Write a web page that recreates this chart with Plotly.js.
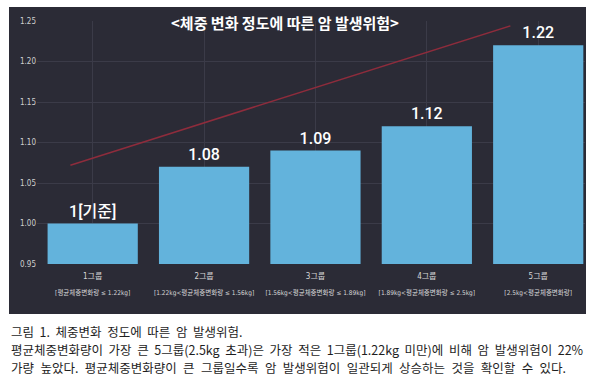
<!DOCTYPE html>
<html><head><meta charset="utf-8">
<script src="https://cdn.plot.ly/plotly-3.0.1.min.js"></script>
<style>html,body{margin:0;padding:0;background:#fff}#chart{width:600px;height:381px}</style>
</head><body><div id="chart"></div>
<script>
// ---- data ----
const groups = ['1그룹', '2그룹', '3그룹', '4그룹', '5그룹'];
const ranges = ['[평균체중변화량 ≤ 1.22kg]', '[1.22kg&lt;평균체중변화량 ≤ 1.56kg]', '[1.56kg&lt;평균체중변화량 ≤ 1.89kg]', '[1.89kg&lt;평균체중변화량 ≤ 2.5kg]', '[2.5kg&lt;평균체중변화량]'];
const risk = [1.00, 1.07, 1.09, 1.12, 1.22];
const riskLabels = ['1[기준]', '1.08', '1.09', '1.12', '1.22'];
const trendX = [-0.2, 3.75];
const trendY = [1.072, 1.244];
const yTicks = [0.95, 1.00, 1.05, 1.10, 1.15, 1.20, 1.25];
const chartTitle = '&lt;체중 변화 정도에 따른 암 발생위험&gt;';
const captionLines = [
  ['그림', '1.', '체중변화', '정도에', '따른', '암', '발생위험.'],
  ['평균체중변화량이', '가장', '큰', '5그룹(2.5kg', '초과)은', '가장', '적은', '1그룹(1.22kg', '미만)에', '비해', '암', '발생위험이', '22%'],
  ['가량', '높았다.', '평균체중변화량이', '큰', '그룹일수록', '암', '발생위험이', '일관되게', '상승하는', '것을', '확인할', '수', '있다.']
];

// ---- geometry helpers (pixel -> paper) ----
const L = 37, R = 585, T = 21, B = 264;
const px = p => (p - L) / (R - L);
const py = p => (B - p) / (B - T);

const xVals = groups.map((g, i) => i);
const tickText = groups.map((g, i) =>
  '<span style="font-size:8px">' + g + '</span><br><span style="font-size:6.5px">' + ranges[i] + '</span>');

const narrow = '"Liberation Sans Narrow", "DejaVu Sans Condensed", Roboto, "Noto Sans CJK KR", sans-serif';
const kr = '"Noto Sans CJK KR", sans-serif';

const traces = [
  {
    type: 'bar', x: xVals, y: risk, width: 0.81,
    marker: {color: '#63b3dc'},
    text: riskLabels, textposition: 'outside', cliponaxis: false,
    textfont: {color: '#ffffff', size: 16, family: 'Roboto, "Noto Sans CJK KR", sans-serif', weight: 500},
    hoverinfo: 'skip'
  },
  {
    type: 'scatter', mode: 'lines', x: trendX, y: trendY,
    line: {color: '#8e2c3c', width: 1.5}, hoverinfo: 'skip'
  }
];

const gaps = [' \u00a0', ' \u00a0', ' \u00a0\u200a'];
const captionY = [331, 349, 367];
const annotations = [
  {xref: 'paper', yref: 'paper', x: px(285), y: py(23), xanchor: 'center', yanchor: 'middle',
   text: chartTitle, showarrow: false, font: {color: '#ffffff', size: 15, family: kr, weight: 'bold'}}
];
captionLines.forEach((words, i) => {
  annotations.push({
    xref: 'paper', yref: 'paper', x: px(9), y: py(captionY[i]), xanchor: 'left', yanchor: 'middle',
    text: words.join(gaps[i]), showarrow: false,
    font: {color: '#1e1e1e', size: 12.5, family: kr}
  });
});

const layout = {
  width: 600, height: 381,
  margin: {l: L, r: 600 - R, t: T, b: 381 - B, pad: 0},
  paper_bgcolor: '#ffffff', plot_bgcolor: 'rgba(0,0,0,0)',
  showlegend: false, bargap: 0.19,
  xaxis: {
    type: 'linear', range: [-0.5, 4.42], tickvals: xVals, ticktext: tickText,
    showgrid: true, gridcolor: '#3b3b48', gridwidth: 1, zeroline: false, ticks: '',
    tickfont: {color: '#d6d6d6', size: 12, family: narrow}, fixedrange: true,
    ticklabelstandoff: 2
  },
  yaxis: {
    range: [0.95, 1.25], tickvals: yTicks, ticktext: yTicks.map(v => v.toFixed(2)),
    showgrid: true, gridcolor: '#3b3b48', gridwidth: 1, zeroline: false, ticks: '',
    tickfont: {color: '#cfcfcf', size: 8, family: narrow}, fixedrange: true
  },
  shapes: [
    {type: 'rect', xref: 'paper', yref: 'paper', x0: px(9), x1: px(586), y0: py(314), y1: py(7),
     fillcolor: '#2b2b36', line: {width: 0}, layer: 'below'}
  ],
  annotations: annotations
};

Plotly.newPlot('chart', traces, layout, {displayModeBar: false, staticPlot: true});
</script>
</body></html>
